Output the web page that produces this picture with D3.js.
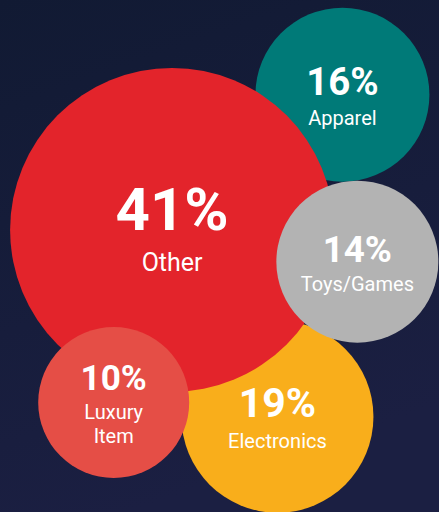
<!DOCTYPE html>
<html>
<head>
<meta charset="utf-8">
<title>Share by category</title>
<script src="https://cdn.jsdelivr.net/npm/d3@7"></script>
<style>
  html, body { margin: 0; padding: 0; background: #141a36; }
  svg { display: block; }
  text { font-family: Roboto, "Noto Sans", sans-serif; fill: #fff; }
</style>
</head>
<body>
<div id="chart"></div>
<script>
// bubbles, listed in drawing order (back to front)
var categories = ["Apparel", "Electronics", "Other", "Toys/Games", "Luxury Item"];
var shares     = [16, 19, 41, 14, 10];
// bubble position on a 0-100 grid
var posX       = [78.0, 63.2, 39.2, 81.4, 25.9];
var posY       = [18.5, 81.4, 44.9, 51.1, 78.6];
var colors     = ["#007a78", "#f9ae1b", "#e3242b", "#b3b3b3", "#e54e46"];

var width = 439, height = 512;

var svg = d3.select("#chart").append("svg")
    .attr("width", width)
    .attr("height", height);

var bg = svg.append("defs").append("linearGradient")
    .attr("id", "bg")
    .attr("x1", 0).attr("y1", 0).attr("x2", 0.3).attr("y2", 1);
bg.append("stop").attr("offset", "0%").attr("stop-color", "#111a33");
bg.append("stop").attr("offset", "100%").attr("stop-color", "#1b1f42");

svg.append("rect")
    .attr("width", width)
    .attr("height", height)
    .attr("fill", "url(#bg)");

var x = d3.scaleLinear().domain([0, 100]).range([0, width]);
var y = d3.scaleLinear().domain([0, 100]).range([0, height]);
var r = d3.scaleLinear().domain([10, 14, 41]).range([75.5, 81, 162]);
var fontSize = d3.scaleLinear().domain([75, 162]).range([35, 60]);
var labelSize = d3.scaleLinear().domain([95, 162]).range([20, 25]).clamp(true);

var data = categories.map(function(c, i) {
    return { name: c, value: shares[i], x: posX[i], y: posY[i], color: colors[i] };
});

var bubble = svg.selectAll(".bubble")
    .data(data)
  .enter().append("g")
    .attr("class", "bubble")
    .attr("transform", function(d) { return "translate(" + x(d.x) + "," + y(d.y) + ")"; });

bubble.append("circle")
    .attr("r", function(d) { return r(d.value); })
    .attr("fill", function(d) { return d.color; });

bubble.each(function(d) {
    var g = d3.select(this);
    var size = fontSize(r(d.value));
    var lines = d.name.split(" ");
    var lineH = 24;
    var base = -(lines.length - 1) * lineH / 2;

    g.append("text")
        .attr("text-anchor", "middle")
        .attr("y", base)
        .style("font-size", size + "px")
        .style("font-weight", 700)
        .text(d.value + "%");

    var label = g.append("text")
        .attr("text-anchor", "middle")
        .style("font-size", labelSize(r(d.value)) + "px");
    lines.forEach(function(l, i) {
        label.append("tspan")
            .attr("x", 0)
            .attr("y", base + size * 0.5 + 11 + i * lineH)
            .text(l);
    });
});
</script>
</body>
</html>
